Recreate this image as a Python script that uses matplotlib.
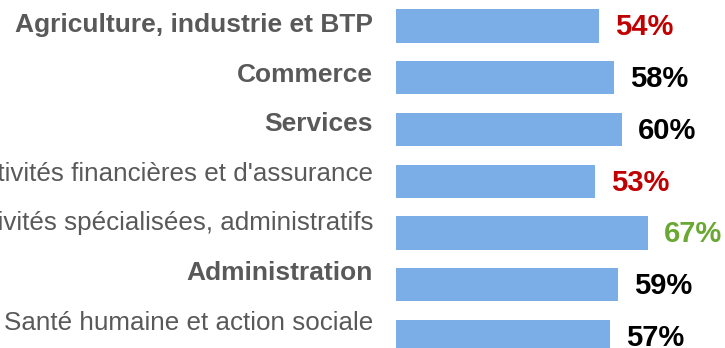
import matplotlib
matplotlib.use("Agg")
import matplotlib.pyplot as plt

categories = [
    "Agriculture, industrie et BTP",
    "Commerce",
    "Services",
    "Activités financières et d'assurance",
    "Activités spécialisées, administratifs",
    "Administration",
    "Santé humaine et action sociale",
]
values = [54, 58, 60, 53, 67, 59, 57]
bold_labels = [True, True, True, False, False, True, False]
value_colors = ["#C00000", "#000000", "#000000", "#C00000", "#6AA833", "#000000", "#000000"]

BAR_COLOR = "#7BADE6"
TEXT_GRAY = "#595959"

W, H = 725, 348
fig = plt.figure(figsize=(W / 100, H / 100), dpi=100)
ax = fig.add_axes([396 / W, 0, 1 - 396 / W, 1])

n = len(categories)
ys = list(range(n))
ax.barh(ys, values, height=0.645, color=BAR_COLOR, edgecolor="none")

# scale: 3.76 px per percentage point, first bar centre 26 px from top
ax.set_xlim(0, (W - 396) / 3.76)
step = 51.75
ax.set_ylim((H - 26) / step, -26 / step)

for y, v, c in zip(ys, values, value_colors):
    ax.annotate(f"{v}%", xy=(v, y), xytext=(11.5, -1), textcoords="offset points",
                ha="left", va="center", fontsize=21, fontweight="bold",
                color=c, family="Liberation Sans")

# category labels, right-aligned just left of the bars
for i, (cat, b) in enumerate(zip(categories, bold_labels)):
    ypix = 25 + 49.6 * i
    fig.text(373 / W, 1 - ypix / H, cat, ha="right", va="center",
             fontsize=19 if b else 18.75, fontweight="bold" if b else "normal",
             color=TEXT_GRAY, family="Liberation Sans")

ax.axis("off")
fig.savefig("out.png", dpi=100)
